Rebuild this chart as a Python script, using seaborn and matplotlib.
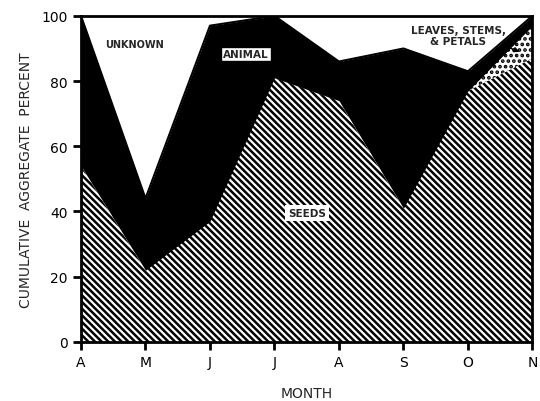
import numpy as np
import pandas as pd
import matplotlib
matplotlib.use("Agg")
import matplotlib.pyplot as plt
import seaborn as sns

# values per month (percent, stacked bottom -> top)
months = ["A", "M", "J", "J", "A", "S", "O", "N"]
seeds = [54, 22, 37, 81, 74, 41, 77, 87]
leaves = [0, 0, 0, 0, 0, 0, 0, 10]
animal = [46, 22, 60, 19, 12, 49, 6, 3]
unknown = [0, 56, 3, 0, 14, 10, 17, 0]
y_ticks = [0, 20, 40, 60, 80, 100]


def main():
    sns.set_style("ticks")
    plt.rcParams["font.family"] = ["DejaVu Sans"]
    plt.rcParams["hatch.linewidth"] = 1.8
    plt.rcParams["hatch.color"] = "black"

    df = pd.DataFrame({"x": np.arange(len(months)), "seeds": seeds,
                       "leaves": leaves, "animal": animal, "unknown": unknown})
    df["c1"] = df["seeds"]
    df["c2"] = df["c1"] + df["leaves"]
    df["c3"] = df["c2"] + df["animal"]
    df["c4"] = df["c3"] + df["unknown"]

    fig = plt.figure(figsize=(5.4, 4.02), dpi=100)
    ax = fig.add_axes([0.15, 0.147, 0.836, 0.811])

    ax.fill_between(df["x"], 0, df["c1"], facecolor="white", edgecolor="black",
                    hatch="\\\\\\\\\\", linewidth=0)
    ax.fill_between(df["x"], df["c1"], df["c2"], facecolor="white", edgecolor="black",
                    hatch="...", linewidth=0)
    ax.fill_between(df["x"], df["c2"], df["c3"], facecolor="black", linewidth=0)
    ax.fill_between(df["x"], df["c3"], df["c4"], facecolor="white", linewidth=0)
    sns.lineplot(x=df["x"], y=df["c3"], color="black", linewidth=1.5, ax=ax)

    ax.set_xlim(0, len(months) - 1)
    ax.set_ylim(0, 100)
    ax.set_xticks(df["x"])
    ax.set_xticklabels(months)
    ax.set_yticks(y_ticks)
    for s in ax.spines.values():
        s.set_linewidth(2)
        s.set_color("black")
    ax.tick_params(axis="both", length=6, width=2, labelsize=10, colors="black")
    ax.set_xlabel("MONTH", fontsize=10, labelpad=12)
    ax.set_ylabel("CUMULATIVE  AGGREGATE  PERCENT", fontsize=10, labelpad=6)

    ax.text(0.83, 91.5, "UNKNOWN", fontsize=7, fontweight="bold", ha="center", va="center")
    ax.text(2.56, 88.3, "ANIMAL", fontsize=7.5, fontweight="bold", ha="center", va="center",
            bbox=dict(boxstyle="square,pad=0.2", facecolor="white", edgecolor="black", linewidth=1))
    ax.text(3.5, 39.6, "SEEDS", fontsize=7.5, fontweight="bold", ha="center", va="center",
            bbox=dict(boxstyle="square,pad=0.3", facecolor="white", edgecolor="none"))
    ax.annotate("LEAVES, STEMS,\n& PETALS", xy=(6.8, 89), xytext=(5.85, 94),
                fontsize=7.5, fontweight="bold", ha="center", va="center",
                arrowprops=dict(arrowstyle="-|>", color="black", lw=1,
                                shrinkA=0, shrinkB=0, relpos=(0.85, 0.25)))

    fig.savefig("out.png", dpi=100)
    plt.close(fig)


if __name__ == "__main__":
    main()
